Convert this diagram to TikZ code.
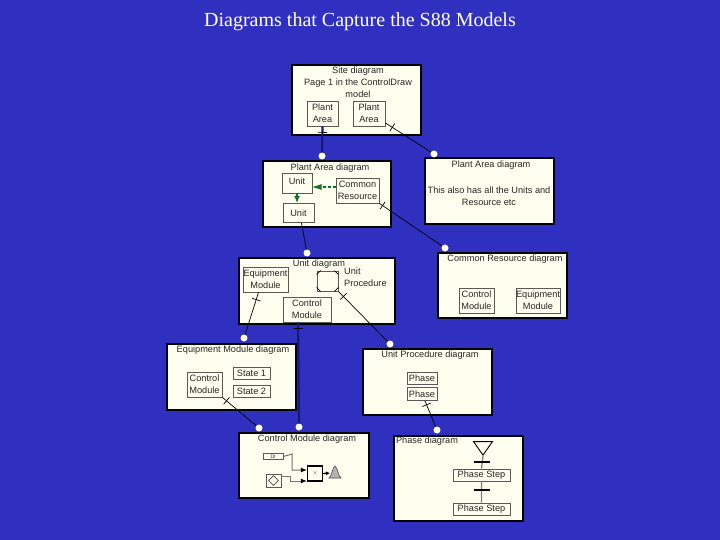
\documentclass[tikz,border=0pt]{standalone}
\usepackage{fontspec}
\setmainfont{Liberation Serif}
\setsansfont{Liberation Sans}
\usepackage{tikz}
\usetikzlibrary{arrows.meta}
\usetikzlibrary{positioning,shapes.geometric}
\definecolor{slidebg}{RGB}{48,48,192}
\definecolor{paper}{RGB}{255,255,240}
\definecolor{linknavy}{RGB}{24,24,120}
\definecolor{linkgreen}{RGB}{20,115,30}
\tikzset{
  panel/.style={draw=black,fill=paper,line width=2.6pt,inner sep=0pt,rectangle},
  part/.style={draw=black!65,fill=paper,line width=0.9pt,inner sep=0pt,rectangle,font=\sffamily\fontsize{9.2}{12}\selectfont,align=center,text=black!85},
  caption/.style={font=\sffamily\fontsize{9.2}{12}\selectfont,align=center,inner sep=0pt,text=black!85},
  dot/.style={circle,fill=white,draw=none,minimum size=7pt,inner sep=0pt},
  thinlink/.style={draw=black,line width=0.7pt},
  thicklink/.style={draw=linknavy,line width=2.2pt},
  tickmark/.style={draw=black,line width=0.7pt,inner sep=0pt,minimum width=0pt,minimum height=9pt,sloped},
  bar/.style={fill=black,draw=none,inner sep=0pt,minimum width=16pt,minimum height=2.5pt},
  wire/.style={draw=black!55,line width=1pt,-{Latex[length=6pt,width=5pt,black]}}
}
\begin{document}
\begin{tikzpicture}[x=1pt,y=-1pt,>=Stealth]
\fill[slidebg] (0,0) rectangle (720,540);
\useasboundingbox (0,0) rectangle (720,540);
\node[font=\fontsize{20}{22}\selectfont,inner sep=0pt,text=white] (title) at (360,22) {Diagrams that Capture the S88 Models};

% panels
\node[panel,minimum width=129pt,minimum height=70pt] (site) at (356.5,100) {};
\node[panel,minimum width=128pt,minimum height=66pt] (areaL) at (327,194) {};
\node[panel,minimum width=129pt,minimum height=66pt] (areaR) at (489.5,191) {};
\node[panel,minimum width=156pt,minimum height=66pt] (unitd) at (317,291) {};
\node[panel,minimum width=129pt,minimum height=65pt] (common) at (502.5,285.5) {};
\node[panel,minimum width=129pt,minimum height=66pt] (equipd) at (231.5,377) {};
\node[panel,minimum width=129pt,minimum height=66pt] (procd) at (427.5,382) {};
\node[panel,minimum width=130pt,minimum height=65pt] (ctrld) at (304,465.5) {};
\node[panel,minimum width=129pt,minimum height=85pt] (phased) at (458.5,478.5) {};

% captions
\node[caption] (sitecap) at (358,82) {Site diagram\\Page 1 in the ControlDraw\\model};
\node[caption] (areaLcap) at (330,168.5) {Plant Area diagram};
\node[caption] (areaRcap) at (491,165) {Plant Area diagram};
\node[caption] (areaRtxt) at (489,196.5) {This also has all the Units and\\Resource etc};
\node[caption] (unitcap) at (319,264) {Unit diagram};
\node[caption] (commoncap) at (505,259.5) {Common Resource diagram};
\node[caption] (equipcap) at (233,350.5) {Equipment Module diagram};
\node[caption] (proccap) at (430,355.5) {Unit Procedure diagram};
\node[caption] (ctrlcap) at (307,439) {Control Module diagram};
\node[caption] (phasecap) at (427,441.5) {Phase diagram};

% parts
\node[part,minimum width=31pt,minimum height=25pt] (plant1) at (322.5,113.5) {Plant\\Area};
\node[part,minimum width=32pt,minimum height=25pt] (plant2) at (369,113.5) {Plant\\Area};
\node[part,minimum width=30pt,minimum height=20pt] (unita) at (297,183) {\raisebox{3pt}{Unit}};
\node[part,minimum width=31pt,minimum height=19pt] (unitb) at (298.5,213) {Unit};
\node[part,minimum width=43pt,minimum height=25pt] (res) at (357.5,190.5) {Common\\Resource};
\node[part,minimum width=45pt,minimum height=25pt] (equip) at (265.5,279.5) {Equipment\\Module};
\node[part,minimum width=21pt,minimum height=20pt] (proc) at (327.5,281) {};
\node[caption,anchor=west,align=left] (proclabel) at (344,277.5) {Unit\\Procedure};
\node[part,minimum width=48pt,minimum height=25pt] (ctrl) at (307,309.5) {Control\\Module};
\node[part,minimum width=35pt,minimum height=25pt] (crctrl) at (476.5,300.5) {Control\\Module};
\node[part,minimum width=44pt,minimum height=25pt] (crequip) at (538,300.5) {Equipment\\Module};
\node[part,minimum width=35pt,minimum height=25pt] (emctrl) at (204.5,384.5) {Control\\Module};
\node[part,minimum width=37pt,minimum height=12pt] (state1) at (251.5,373) {State 1};
\node[part,minimum width=37pt,minimum height=12pt] (state2) at (251.5,391.5) {State 2};
\node[part,minimum width=30pt,minimum height=12pt] (phase1) at (422,378) {Phase};
\node[part,minimum width=30pt,minimum height=13pt] (phase2) at (422,394) {Phase};
\node[isosceles triangle,isosceles triangle apex angle=70,shape border rotate=-90,draw=black,fill=paper,line width=0.9pt,inner sep=0pt,minimum height=13pt,minimum width=19pt] (start) at (483,446.5) {};
\node[part,minimum width=57pt,minimum height=12pt] (step1) at (481.5,475) {Phase Step};
\node[part,minimum width=57pt,minimum height=12pt] (step2) at (481.5,509) {Phase Step};

% corners of the procedure symbol
\draw[draw=black,line width=0.8pt] (proc.north west) ++(0,4) -- ++(4,-4) (proc.north east) ++(0,4) -- ++(-4,-4)
  (proc.south west) ++(0,-4) -- ++(4,4) (proc.south east) ++(0,-4) -- ++(-4,4);

% control module detail
\node[part,minimum width=20pt,minimum height=6pt,font=\sffamily\fontsize{5}{5}\selectfont] (input) at (273,456.5) {DI};
\node[part,minimum width=15pt,minimum height=13pt] (sensor) at (273.5,480.5) {};
\node[diamond,draw=black!70,inner sep=0pt,minimum size=10pt,line width=0.6pt] (sensorin) at (sensor) {};
\node[part,draw=black,line width=1.2pt,minimum width=15pt,minimum height=15pt,font=\sffamily\fontsize{5}{5}\selectfont] (block) at (315,473.5) {$\times$};
\coordinate (bell) at (330,473);
\draw[draw=black!70,fill=black!30,line width=0.6pt] (329,478) .. controls (332,476) and (332,468) .. (335,466) .. controls (338,468) and (338,476) .. (341,478) -- cycle;

% connection dots
\node[dot] (dotarea) at (322,156) {};
\node[dot] (dotareaR) at (434,154) {};
\node[dot] (dotunit) at (307,253) {};
\node[dot] (dotcommon) at (445,248) {};
\node[dot] (dotequip) at (244,338) {};
\node[dot] (dotproc) at (390,344) {};
\node[dot] (dotctrl) at (259,428) {};
\node[dot] (dotctrlb) at (299,427) {};
\node[dot] (dotphase) at (437,430) {};

% links
\draw[thicklink] (plant1.south) -- node[tickmark,pos=0.23] {} (dotarea);
\draw[thinlink] (plant2.-30) -- node[tickmark,pos=0.15] {} (dotareaR);
\draw[thinlink] (res.south east) -- node[tickmark,pos=0.05] {} (dotcommon);
\draw[thinlink] ([xshift=3pt]unitb.south) -- node[tickmark,pos=0.15] {} (dotunit);
\draw[thinlink] ([xshift=-7pt]equip.south) -- node[tickmark,pos=0.17] {} (dotequip);
\draw[thinlink] (proc.south east) -- node[tickmark,pos=0.1] {} (dotproc);
\draw[thicklink] ([xshift=-9pt]ctrl.south) -- node[tickmark,pos=0.06] {} (dotctrlb);
\draw[thinlink] (emctrl.south east) -- node[tickmark,pos=0.12] {} (dotctrl);
\draw[thinlink] ([xshift=3pt]phase2.south) -- node[tickmark,pos=0.15] {} (dotphase);
\draw[draw=linkgreen,line width=1.3pt,densely dashed,-{Latex[length=10pt,width=6pt]}] (res.west |- unita.east) ++(0,4) -- ++(-24,0);
\draw[draw=linkgreen,line width=1.3pt,-{Latex[length=7pt,width=6pt]}] (unita.south) -- (unita.south |- unitb.north);
\draw[draw=black!50,line width=1.3pt] (start.south) -- (step1.north) (step1.south) -- (step2.north);
\node[bar] (bar1) at (482,462) {};
\node[bar] (bar2) at (482,490) {};
\draw[wire] (input.east) -- (292,454) -- (292,470) -- (block.west |- 0,470);
\draw[wire] (sensor.east |- 0,476) -- (290,476) -- (290,481) -- (block.west |- 0,481);
\draw[draw=black,line width=1.2pt,-{Latex[length=4pt,width=4pt]}] (block.east) -- (bell);
\end{tikzpicture}
\end{document}
